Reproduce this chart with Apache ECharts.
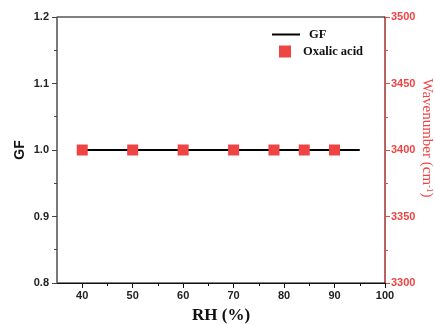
<!DOCTYPE html>
<html><head><meta charset="utf-8">
<script src="https://cdn.jsdelivr.net/npm/echarts@6/dist/echarts.min.js"></script>
<style>html,body{margin:0;padding:0;background:#fff}#c{width:435px;height:325px}</style>
</head><body><div id="c"></div>
<script>
const rhMajor = [40, 50, 60, 70, 80, 90, 100];
const rhMinor = [45, 55, 65, 75, 85, 95];
const gfRH = [40, 95];
const gfValues = [1.0, 1.0];
const oxalicRH = [40, 50, 60, 70, 78, 84, 90];
const oxalicWavenumber = [3400, 3400, 3400, 3400, 3400, 3400, 3400];

const RED = '#EE4444';
const tickFont = {fontFamily: 'Liberation Sans, Arial', fontWeight: 'bold', fontSize: 11};
const legendFont = {fontFamily: 'Liberation Serif, Times New Roman', fontWeight: 'bold', fontSize: 12.5, color: '#111'};

const chart = echarts.init(document.getElementById('c'), null, {renderer: 'canvas'});
chart.setOption({
  animation: false,
  backgroundColor: '#fff',
  grid: {left: 57, right: 50, top: 17, bottom: 42, containLabel: false, outerBoundsMode: 'none',
         show: true, borderColor: '#000', borderWidth: 1, backgroundColor: 'transparent'},
  legend: [
    {data: [{name: 'GF', icon: 'rect'}], left: 272, top: 28, padding: 0, orient: 'vertical', itemWidth: 28, itemHeight: 2,
     itemStyle: {color: '#000'},
     textStyle: {...legendFont, padding: [0, 0, 0, 4]}},
    {data: ['Oxalic acid'], left: 279, top: 45, padding: 0, orient: 'vertical', itemWidth: 12, itemHeight: 12,
     textStyle: {...legendFont, padding: [0, 0, 0, 7]}}
  ],
  xAxis: [
    {type: 'value', position: 'bottom', min: 35, max: 100,
     name: 'RH (%)', nameLocation: 'middle', nameGap: 24, nameMoveOverlap: false,
     nameTextStyle: {fontFamily: 'Liberation Serif, Times New Roman', fontWeight: 'bold', fontSize: 17, color: '#111'},
     axisLine: {show: true, onZero: false, lineStyle: {color: '#111', width: 1}},
     axisTick: {show: true, inside: false, length: 5, customValues: rhMajor, lineStyle: {color: '#111'}},
     axisLabel: {show: true, customValues: rhMajor, margin: 7, color: '#222', ...tickFont},
     splitLine: {show: false}},
    {type: 'value', position: 'bottom', min: 35, max: 100,
     axisLine: {show: false},
     axisTick: {show: true, inside: false, length: 3, customValues: rhMinor, lineStyle: {color: '#111'}},
     axisLabel: {show: false},
     splitLine: {show: false}}
  ],
  yAxis: [
    {type: 'value', position: 'left', min: 0.8, max: 1.2, interval: 0.1,
     name: 'GF', nameLocation: 'middle', nameGap: 30, nameRotate: 90, nameMoveOverlap: false,
     nameTextStyle: {fontFamily: 'Liberation Sans, Arial', fontWeight: 'bold', fontSize: 14, color: '#111'},
     axisLine: {show: true, onZero: false, lineStyle: {color: '#777', width: 1.5}},
     axisTick: {show: true, inside: false, length: 5, lineStyle: {color: '#444'}},
     minorTick: {show: true, splitNumber: 2, length: 3, lineStyle: {color: '#444'}},
     axisLabel: {margin: 8, color: '#222', formatter: v => v.toFixed(1), ...tickFont},
     splitLine: {show: false}, minorSplitLine: {show: false}},
    {type: 'value', position: 'right', min: 3300, max: 3500, interval: 50,
     name: 'Wavenumber (cm{sup|-1}){pad|}', nameLocation: 'middle', nameGap: 34, nameRotate: -90, nameMoveOverlap: false,
     nameTextStyle: {fontFamily: 'Liberation Serif, Times New Roman', fontSize: 15, color: RED,
       rich: {
         sup: {fontFamily: 'Liberation Serif, Times New Roman', fontSize: 9, color: RED, verticalAlign: 'top'},
         pad: {width: 24}
       }},
     axisLine: {show: true, onZero: false, lineStyle: {color: RED, width: 1}},
     axisTick: {show: true, inside: false, length: 5, lineStyle: {color: RED}},
     minorTick: {show: true, splitNumber: 2, length: 3, lineStyle: {color: RED}},
     axisLabel: {margin: 6, color: RED, formatter: v => String(v), ...tickFont},
     splitLine: {show: false}, minorSplitLine: {show: false}},
  ],
  series: [
    {name: 'GF', type: 'line', xAxisIndex: 0, yAxisIndex: 0, symbol: 'none',
     data: gfRH.map((x, i) => [x, gfValues[i]]),
     lineStyle: {color: '#000', width: 2}, itemStyle: {color: '#000'}, z: 2},
    {name: 'Oxalic acid', type: 'scatter', xAxisIndex: 0, yAxisIndex: 1, symbol: 'rect', symbolSize: 11,
     data: oxalicRH.map((x, i) => [x, oxalicWavenumber[i]]),
     itemStyle: {color: RED, opacity: 1}, z: 3}
  ]
});
</script></body></html>
